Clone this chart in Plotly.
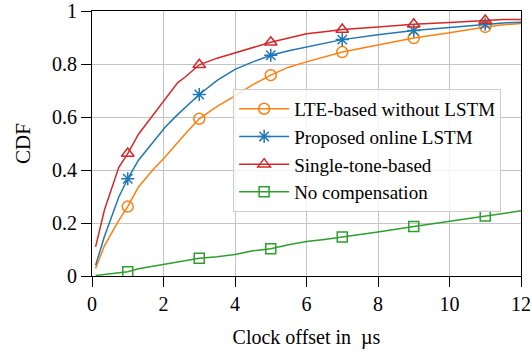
import plotly.graph_objects as go

offset_us = [0.1, 0.35, 0.75, 1, 1.3, 1.7, 2.05, 2.4, 2.6, 3, 3.5, 4, 4.5, 5,
             5.5, 6, 6.5, 7, 8, 9, 10, 11, 11.5, 12]
marker_x = [1, 3, 5, 7, 9, 11]

cdf_lte = [0.028, 0.115, 0.21, 0.262, 0.336, 0.40, 0.45, 0.505, 0.535, 0.593,
           0.64, 0.68, 0.722, 0.758, 0.788, 0.808, 0.826, 0.845, 0.872, 0.898,
           0.918, 0.94, 0.948, 0.953]
cdf_lstm = [0.04, 0.15, 0.298, 0.367, 0.437, 0.503, 0.562, 0.61, 0.635, 0.685,
            0.738, 0.78, 0.808, 0.833, 0.85, 0.864, 0.878, 0.892, 0.91, 0.926,
            0.938, 0.95, 0.955, 0.958]
cdf_single = [0.11, 0.25, 0.41, 0.462, 0.535, 0.605, 0.67, 0.73, 0.75, 0.797,
              0.822, 0.842, 0.862, 0.882, 0.898, 0.914, 0.922, 0.930, 0.940,
              0.950, 0.957, 0.964, 0.968, 0.968]
cdf_none = [0.002, 0.006, 0.01, 0.016, 0.027, 0.037, 0.043, 0.052, 0.058, 0.067,
            0.073, 0.081, 0.095, 0.103, 0.118, 0.13, 0.138, 0.147, 0.166, 0.187,
            0.207, 0.226, 0.236, 0.246]

series = [
    ("LTE-based without LSTM", cdf_lte, "#ff7f0e", "circle-open", 11),
    ("Proposed online LSTM", cdf_lstm, "#1f77b4", "asterisk-open", 11),
    ("Single-tone-based", cdf_single, "#d62728", "triangle-up-open", 11),
    ("No compensation", cdf_none, "#2ca02c", "square-open", 10),
]

FONT = "Liberation Serif"
fig = go.Figure()
for name, vals, color, sym, size in series:
    fig.add_trace(go.Scatter(x=offset_us, y=vals, mode="lines",
                             line=dict(color=color, width=1.5),
                             showlegend=False, hoverinfo="skip"))
    mv = [vals[offset_us.index(m)] for m in marker_x]
    fig.add_trace(go.Scatter(x=marker_x, y=mv, mode="markers",
                             marker=dict(symbol=sym, size=size, color=color,
                                         line=dict(color=color, width=1.5)),
                             showlegend=False))
    fig.add_trace(go.Scatter(x=[None], y=[None], mode="lines+markers", name=name,
                             line=dict(color=color, width=1.5),
                             marker=dict(symbol=sym, size=size, color=color,
                                         line=dict(color=color, width=1.5))))

axis_common = dict(showline=True, linecolor="black", linewidth=1.2, mirror=True,
                   showgrid=True, gridcolor="#c4c4c4", gridwidth=1,
                   ticks="outside", ticklen=10, tickcolor="black", tickwidth=1,
                   zeroline=False, automargin=False,
                   tickfont=dict(family=FONT, size=20, color="black"))

fig.update_layout(
    width=531, height=351,
    margin=dict(l=92, r=10, t=11, b=75),
    paper_bgcolor="white", plot_bgcolor="white",
    font=dict(family=FONT, size=20, color="black"),
    xaxis=dict(range=[0, 12], tickvals=[0, 2, 4, 6, 8, 10, 12],
               title=dict(text="Clock offset in\u00a0 µs", font=dict(family=FONT, size=20)),
               **axis_common),
    yaxis=dict(range=[0, 1], tickvals=[0, 0.2, 0.4, 0.6, 0.8, 1],
               ticktext=["0", "0.2", "0.4", "0.6", "0.8", "1"],
               title=dict(text="CDF", font=dict(family=FONT, size=21)),
               **axis_common),
    legend=dict(x=0.329, y=0.706, xanchor="left", yanchor="top",
                itemwidth=50,
                bgcolor="rgba(255,255,255,0.8)", bordercolor="#cccccc", borderwidth=1,
                font=dict(family=FONT, size=19, color="black")),
    showlegend=True,
)

fig.write_html("out.html", config={"displayModeBar": False},
               post_script="document.body.style.margin='0';")
